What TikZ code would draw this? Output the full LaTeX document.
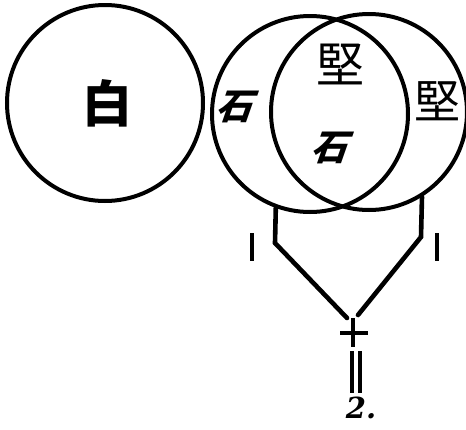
\documentclass[tikz,border=0pt]{standalone}
\usepackage{fontspec}
\newfontfamily\cjk{Noto Sans CJK TC}
\newfontfamily\numfont{DejaVu Serif}
\begin{document}
\begin{tikzpicture}[x=1pt,y=-1pt,
  ring/.style={circle,draw,line width=4pt,minimum size=196pt,inner sep=0pt},
  stroke/.style={line width=4.6pt,line cap=round,line join=miter},
  glyph/.style={inner sep=0pt}]
\useasboundingbox (0,0) rectangle (466,429);
\node[ring] (white) at (105,103) {};
\node[ring] (stone) at (310,114) {};
\node[ring] (hard) at (369,112) {};
\node[glyph,font=\cjk\bfseries\fontsize{50}{50}\selectfont] (tbai) at (107,103) {白};
\node[glyph,font=\cjk\bfseries\fontsize{36}{36}\selectfont,xslant=0.35] (tshi1) at (238,107) {石};
\node[glyph,font=\cjk\bfseries\fontsize{36}{36}\selectfont,xslant=0.35] (tshi2) at (333,148) {石};
\node[glyph,font=\cjk\fontsize{48}{48}\selectfont] (tjian1) at (340,64) {堅};
\node[glyph,font=\cjk\fontsize{46}{46}\selectfont] (tjian2) at (437,101) {堅};
\coordinate (lb) at (275,243);
\coordinate (le) at (347,318);
\coordinate (rb) at (421,237);
\coordinate (re) at (358,315);
\draw[stroke] (stone.-110.7) -- (lb) -- (le);
\draw[stroke] (hard.-58.3) -- (rb) -- (re);
\coordinate (ct) at (353,318);
\coordinate (cb) at (353,347);
\coordinate (cl) at (340,333);
\coordinate (cr) at (368,333);
\draw[line width=4.4pt] (ct) -- (cb);
\draw[line width=4pt] (cl) -- (cr);
\coordinate (e1t) at (352,351);
\coordinate (e1b) at (352,393);
\coordinate (e2t) at (360,351);
\coordinate (e2b) at (360,393);
\draw[line width=3.4pt] (e1t) -- (e1b);
\draw[line width=3.4pt] (e2t) -- (e2b);
\coordinate (m1t) at (252,233);
\coordinate (m1b) at (252,261);
\coordinate (m2t) at (437,233);
\coordinate (m2b) at (437,261);
\draw[line width=3.2pt] (m1t) -- (m1b);
\draw[line width=3.2pt] (m2t) -- (m2b);
\node[inner sep=0pt,font=\numfont\bfseries\itshape\fontsize{29}{29}\selectfont] (two) at (361,408) {2.};
\end{tikzpicture}
\end{document}
